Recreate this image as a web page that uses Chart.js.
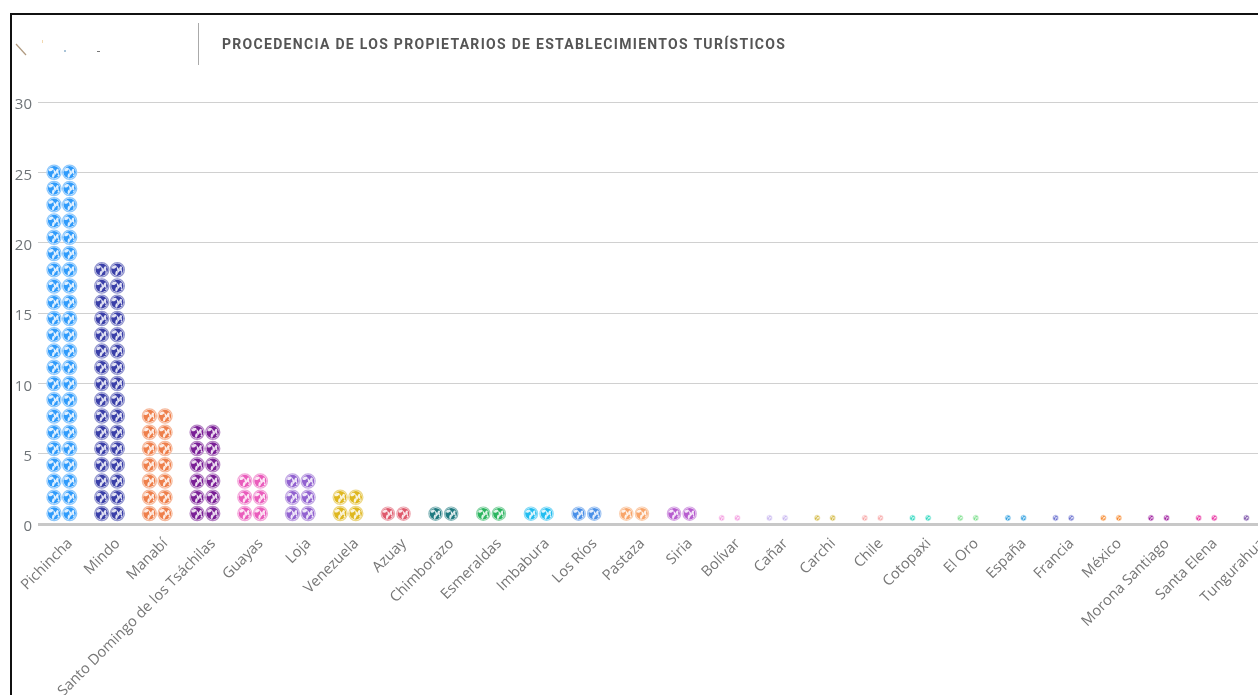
<!DOCTYPE html>
<html>
<head>
<meta charset="utf-8">
<title>Procedencia de los propietarios</title>
<script src="https://cdn.jsdelivr.net/npm/chart.js@4"></script>
<style>
    html, body { margin: 0; width: 1258px; height: 695px; overflow: hidden; background: #fff; }
    #frame { position: absolute; left: 10px; top: 13px; width: 1300px; height: 720px; border: 2px solid #111; }
    #chartBox { position: absolute; left: 0; top: 0; width: 1290px; height: 695px; filter: blur(0.35px); }
    #divider { position: absolute; left: 198px; top: 23px; width: 1px; height: 42px; background: #aaa; }
    #title { position: absolute; left: 222px; top: 36px; font: 700 14px Roboto, sans-serif; letter-spacing: 1.3px; color: #555; white-space: nowrap; filter: blur(0.3px); }
    #logo { position: absolute; left: 0; top: 0; }
</style>
</head>
<body>
<div id="frame"></div>
<div id="chartBox"><canvas id="placesChart" width="1290" height="695"></canvas></div>
<svg id="logo" width="120" height="70">
    <line x1="16" y1="44" x2="26" y2="55" stroke="#b09a80" stroke-width="1.2"/>
    <rect x="42" y="40" width="1" height="3" fill="#f3d9b0"/>
    <rect x="64" y="50" width="2" height="2" fill="#a9c4d8"/>
    <rect x="97" y="51" width="3" height="1" fill="#777"/>
</svg>
<div id="divider"></div>
<div id="title">PROCEDENCIA DE LOS PROPIETARIOS DE ESTABLECIMIENTOS TURÍSTICOS</div>
<script>
const places = ['Pichincha', 'Mindo', 'Manabí', 'Santo Domingo de los Tsáchilas', 'Guayas', 'Loja', 'Venezuela',
    'Azuay', 'Chimborazo', 'Esmeraldas', 'Imbabura', 'Los Ríos', 'Pastaza', 'Siria', 'Bolívar', 'Cañar', 'Carchi',
    'Chile', 'Cotopaxi', 'El Oro', 'España', 'Francia', 'México', 'Morona Santiago', 'Santa Elena', 'Tungurahua'];
const owners = [25, 18, 8, 7, 3, 3, 2, 1, 1, 1, 1, 1, 1, 1, 0.4, 0.4, 0.4, 0.4, 0.4, 0.4, 0.4, 0.4, 0.4, 0.4, 0.4, 0.4];
const placeColors = ['#2f9bfb', '#3a3fa8', '#ee7f4b', '#7a1f96', '#ea5cbc', '#9263d0', '#dfb71f',
    '#df5a6c', '#1f7a80', '#2cb560', '#22bdf0', '#4a90e8', '#f8a56a', '#b75dcf', '#f49ce0', '#c9b8f0', '#d4bb48',
    '#f8a8a8', '#30d8c0', '#80e090', '#30a0e0', '#6a70d0', '#f78a30', '#a020a0', '#e830a0', '#7a50a8'];
const yTicks = [0, 5, 10, 15, 20, 25, 30];

const ROW_HEIGHT = 16.25;
const COL_WIDTH = 15.6;

function drawGlobe(ctx, x, y, d, color) {
    const r = d / 2;
    ctx.save();
    ctx.translate(x, y);
    ctx.scale(r, r);
    ctx.beginPath();
    ctx.arc(0, 0, 1, 0, Math.PI * 2);
    ctx.fillStyle = '#fff';
    ctx.fill();
    ctx.globalAlpha = 0.55;
    ctx.strokeStyle = color;
    ctx.lineWidth = 0.16;
    ctx.beginPath();
    ctx.arc(0, 0, 0.92, 0, Math.PI * 2);
    ctx.stroke();
    ctx.globalAlpha = 1;
    ctx.beginPath();
    ctx.arc(0, 0, 0.8, 0, Math.PI * 2);
    ctx.fillStyle = color;
    ctx.fill();
    ctx.clip();
    // continents
    ctx.fillStyle = 'rgba(255,255,255,0.85)';
    ctx.beginPath();
    ctx.ellipse(-0.4, -0.36, 0.32, 0.2, -0.4, 0, Math.PI * 2);
    ctx.ellipse(-0.1, 0.42, 0.16, 0.3, 0.2, 0, Math.PI * 2);
    ctx.ellipse(0.42, -0.2, 0.16, 0.26, 0.5, 0, Math.PI * 2);
    ctx.ellipse(0.55, 0.42, 0.11, 0.11, 0, 0, Math.PI * 2);
    ctx.fill();
    ctx.restore();
}

// draws the bars as rows of globes, two columns wide
const globeBars = {
    id: 'globeBars',
    afterDatasetsDraw(chart) {
        const ctx = chart.ctx;
        const perUnit = chart.scales.y.getPixelForValue(0) - chart.scales.y.getPixelForValue(1);
        chart.getDatasetMeta(0).data.forEach((bar, i) => {
            const height = owners[i] * perUnit;
            const rows = Math.max(1, Math.round(height / ROW_HEIGHT));
            const size = Math.min(height + 0.5, 15.4);
            for (let row = 0; row < rows; row++) {
                const cy = rows === 1 ? bar.base - 1.5 - size / 2 : bar.base - 9 - row * ROW_HEIGHT;
                drawGlobe(ctx, bar.x - COL_WIDTH / 2, cy, size, placeColors[i]);
                drawGlobe(ctx, bar.x + COL_WIDTH / 2, cy, size, placeColors[i]);
            }
        });
    }
};

// y labels sit a little under their grid lines, x labels end right of their tick
const nudgeLabels = {
    id: 'nudgeLabels',
    beforeDraw(chart) {
        chart.scales.y.getLabelItems().forEach(item => {
            item.options.translation[1] = chart.scales.y.getPixelForValue(Number(item.label)) + 3;
        });
        chart.scales.x.getLabelItems().forEach((item, i) => {
            item.options.translation[0] = chart.scales.x.getPixelForTick(i) + 2;
        });
    }
};

const placesChart = new Chart(document.getElementById('placesChart'), {
    type: 'bar',
    data: {
        labels: places,
        datasets: [{
            label: 'Propietarios',
            data: owners,
            backgroundColor: 'transparent',
            barThickness: 31
        }]
    },
    plugins: [globeBars, nudgeLabels],
    options: {
        responsive: false,
        animation: false,
        layout: { padding: { top: 102, right: 12, left: 0, bottom: 0 } },
        plugins: { legend: { display: false }, tooltip: { enabled: false } },
        scales: {
            x: {
                afterFit: scale => { scale.height = 171; },
                grid: { display: false },
                border: { display: false },
                ticks: {
                    autoSkip: false,
                    minRotation: 45,
                    maxRotation: 45,
                    padding: 3,
                    color: '#777',
                    font: { family: 'Open Sans', size: 14.7 }
                }
            },
            y: {
                min: 0,
                max: 30,
                afterFit: scale => { scale.width = 38; },
                afterBuildTicks: scale => { scale.ticks = yTicks.map(value => ({ value })); },
                border: { display: false },
                grid: {
                    drawTicks: false,
                    color: ctx => ctx.tick.value === 0 ? '#c8c8c8' : '#d0d0d0',
                    lineWidth: ctx => ctx.tick.value === 0 ? 3 : 1
                },
                ticks: {
                    padding: 6,
                    color: '#6f7478',
                    font: { family: 'Open Sans', size: 15 }
                }
            }
        }
    }
});
</script>
</body>
</html>
